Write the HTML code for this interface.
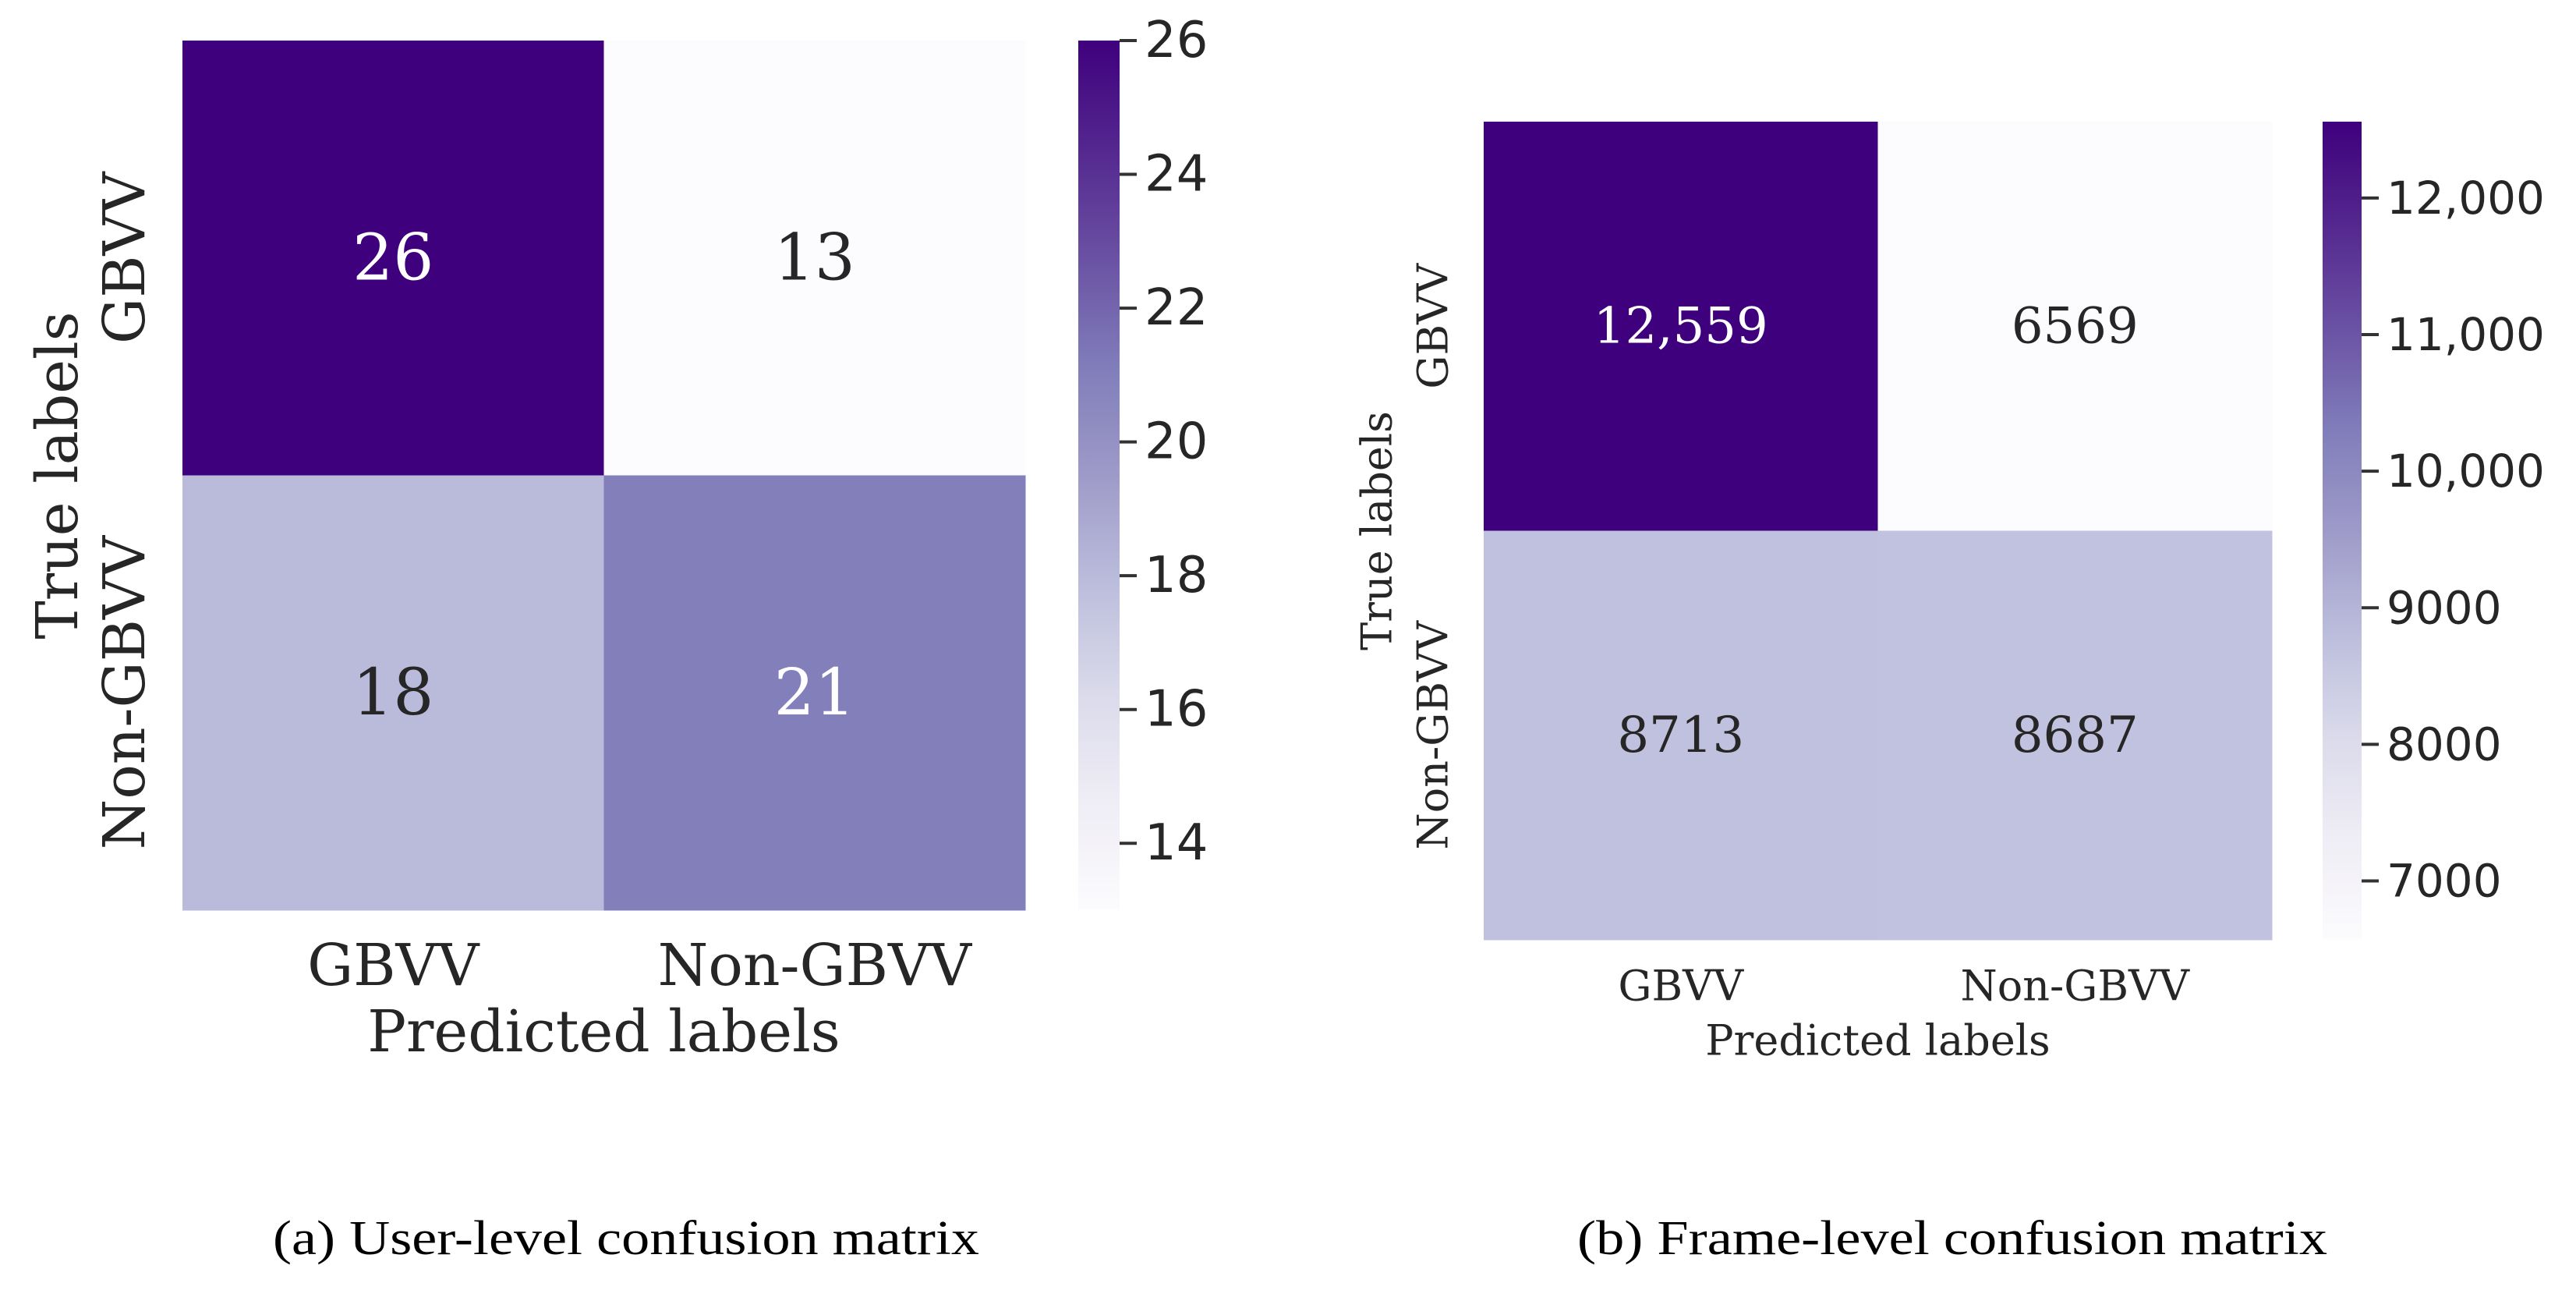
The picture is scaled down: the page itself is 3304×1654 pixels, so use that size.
<!DOCTYPE html>
<html><head><meta charset="utf-8"><style>
html,body{margin:0;padding:0;background:#fff;}
svg{display:block;}
</style></head><body>
<svg id="fig" width="3304" height="1654" viewBox="0 0 3304 1654" xmlns="http://www.w3.org/2000/svg">
<defs>
<linearGradient id="purples" x1="0" y1="1" x2="0" y2="0">
<stop offset="0" stop-color="#fcfbfd"/><stop offset="0.125" stop-color="#efedf5"/><stop offset="0.25" stop-color="#dadaeb"/><stop offset="0.375" stop-color="#bcbddc"/><stop offset="0.5" stop-color="#9e9ac8"/><stop offset="0.625" stop-color="#807dba"/><stop offset="0.75" stop-color="#6a51a3"/><stop offset="0.875" stop-color="#54278f"/><stop offset="1" stop-color="#3f007d"/>
</linearGradient>
</defs>
<g id="left"></g>
<g id="right"></g>
<text x="803" y="1608" text-anchor="middle" font-family="Liberation Serif, serif" font-size="62" textLength="906" lengthAdjust="spacingAndGlyphs" fill="#000">(a) User-level confusion matrix</text>
<text x="2504" y="1608" text-anchor="middle" font-family="Liberation Serif, serif" font-size="62" textLength="962" lengthAdjust="spacingAndGlyphs" fill="#000">(b) Frame-level confusion matrix</text>
</svg>
<script>
const classLabels = ["GBVV", "Non-GBVV"];
const userValues = [[26, 13], [18, 21]];
const userTicks = [14, 16, 18, 20, 22, 24, 26];
const userTickLabels = ["14", "16", "18", "20", "22", "24", "26"];
const frameValues = [[12559, 6569], [8713, 8687]];
const frameCellLabels = [["12,559", "6569"], ["8713", "8687"]];
const frameTicks = [7000, 8000, 9000, 10000, 11000, 12000];
const frameTickLabels = ["7000", "8000", "9000", "10,000", "11,000", "12,000"];

const NS = "http://www.w3.org/2000/svg";
const stops = ["#fcfbfd","#efedf5","#dadaeb","#bcbddc","#9e9ac8","#807dba","#6a51a3","#54278f","#3f007d"];
function hex(c){return [1,3,5].map(i=>parseInt(c.substr(i,2),16));}
function purples(t){
  t=Math.max(0,Math.min(1,t));
  const p=t*8, i=Math.min(7,Math.floor(p)), f=p-i;
  const a=hex(stops[i]), b=hex(stops[i+1]);
  return "rgb("+a.map((v,k)=>Math.round(v+(b[k]-v)*f)).join(",")+")";
}
function el(parent, tag, attrs, text){
  const e=document.createElementNS(NS,tag);
  for(const k in attrs) e.setAttribute(k, attrs[k]);
  if(text!==undefined) e.textContent=text;
  parent.appendChild(e); return e;
}
function drawPanel(g, cfg){
  const vals=cfg.values, flat=vals.flat();
  const vmin=Math.min(...flat), vmax=Math.max(...flat);
  const cw=(cfg.x1-cfg.x0)/2, ch=(cfg.y1-cfg.y0)/2;
  const cy=v=>cfg.y1-(v-vmin)/(vmax-vmin)*(cfg.y1-cfg.y0);
  for(let r=0;r<2;r++)for(let c=0;c<2;c++){
    const v=vals[r][c], t=(v-vmin)/(vmax-vmin);
    const rect=el(g,"rect",{x:cfg.x0+c*cw,y:cfg.y0+r*ch,width:cw+0.5,height:ch+0.5,fill:purples(t)});
    
    
    const tx=el(g,"text",{x:cfg.x0+(c+0.5)*cw,y:cfg.y0+(r+0.5)*ch,"text-anchor":"middle","dominant-baseline":"central","font-family":"DejaVu Serif, serif","font-size":cfg.cellFs,fill:t>0.55?"#ffffff":"#262626"},cfg.cellLabels[r][c]);
    
    
  }
  for(let i=0;i<2;i++){
    const xl=el(g,"text",{x:cfg.x0+(i+0.5)*cw,y:cfg.xtickY,"text-anchor":"middle","dominant-baseline":"central","font-family":"DejaVu Serif, serif","font-size":cfg.axFs,fill:"#262626"},classLabels[i]);
    
    
    const yy=cfg.y0+(i+0.5)*ch;
    const yl=el(g,"text",{x:0,y:0,transform:"translate("+cfg.ytickX+","+yy+") rotate(-90)","text-anchor":"middle","dominant-baseline":"central","font-family":"DejaVu Serif, serif","font-size":cfg.axFs,fill:"#262626"},classLabels[i]);
    
    
  }
  const xt=el(g,"text",{x:(cfg.x0+cfg.x1)/2,y:cfg.xtitleY,"text-anchor":"middle","dominant-baseline":"central","font-family":"DejaVu Serif, serif","font-size":cfg.axFs,fill:"#262626"},"Predicted labels");
  
  
  const yt=el(g,"text",{x:0,y:0,transform:"translate("+cfg.ytitleX+","+(cfg.y0+cfg.y1)/2+") rotate(-90)","text-anchor":"middle","dominant-baseline":"central","font-family":"DejaVu Serif, serif","font-size":cfg.axFs,fill:"#262626"},"True labels");
  
  
  const cb=el(g,"rect",{x:cfg.cb0,y:cfg.y0,width:cfg.cb1-cfg.cb0,height:cfg.y1-cfg.y0,fill:"url(#purples)"});
  
  
  cfg.ticks.forEach((v,i)=>{
    const y=cy(v);
    const tk=el(g,"line",{x1:cfg.cb1,x2:cfg.cb1+22,y1:y,y2:y,stroke:"#333",["stroke-width"]:4});
    
    
    const tl=el(g,"text",{x:cfg.cb1+32,y:y,"dominant-baseline":"central","font-family":"DejaVu Sans, sans-serif","font-size":cfg.cbFs,fill:"#262626"},cfg.tickLabels[i]);
    
    
  });
}
drawPanel(document.getElementById("left"),{values:userValues,cellLabels:userValues.map(r=>r.map(String)),
  x0:234,x1:1315,y0:52,y1:1167,cb0:1383,cb1:1436,ticks:userTicks,tickLabels:userTickLabels,
  cellFs:82,axFs:74,cbFs:64,xtickY:1238,xtitleY:1323,ytickX:160,ytitleX:74});
drawPanel(document.getElementById("right"),{values:frameValues,cellLabels:frameCellLabels,
  x0:1903,x1:2914,y0:156,y1:1205,cb0:2979,cb1:3029,ticks:frameTicks,tickLabels:frameTickLabels,
  cellFs:64,axFs:54,cbFs:58,xtickY:1264,xtitleY:1334,ytickX:1838,ytitleX:1766});
</script>
</body></html>
